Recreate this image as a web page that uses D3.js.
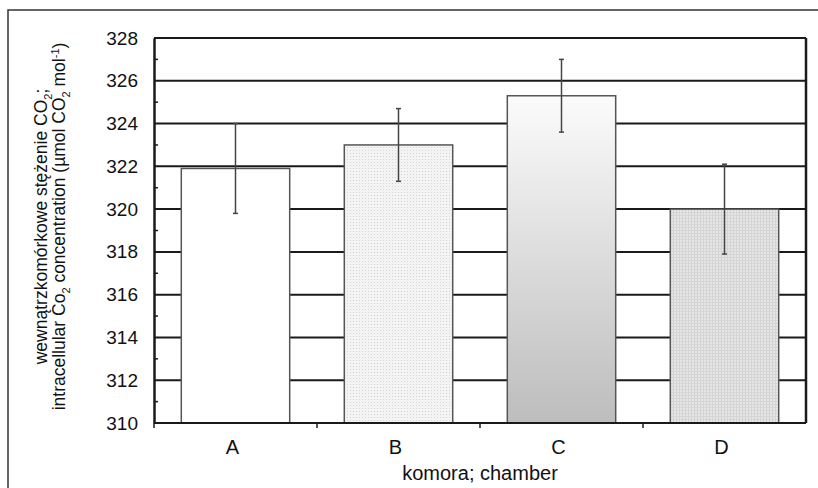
<!DOCTYPE html>
<html>
<head>
<meta charset="utf-8">
<script src="https://d3js.org/d3.v7.min.js"></script>
<style>
	body { margin: 0; background: #fff; }
	svg { display: block; }
	text { font-family: "Liberation Sans", Arial, sans-serif; fill: #111; }
</style>
</head>
<body>
<svg id="chart"></svg>
<script>
(function(){
	'use strict';

	var categories = ["A", "B", "C", "D"];
	var values = [321.9, 323.0, 325.3, 320.0];
	var errors = [2.1, 1.7, 1.7, 2.1];
	var yTicks = [310, 312, 314, 316, 318, 320, 322, 324, 326, 328];
	var fills = ["#ffffff", "url(#stipple)", "url(#grad)", "url(#hatch)"];

	var width = 818, height = 488;
	var margin = {top: 38, right: 12, bottom: 65, left: 154};

	var svg = d3.select("#chart")
		.attr("width", width)
		.attr("height", height);

	var defs = svg.append("defs");

	// fine dotted fill for B
	var stip = defs.append("pattern")
		.attr("id", "stipple")
		.attr("width", 3).attr("height", 3)
		.attr("patternUnits", "userSpaceOnUse");
	stip.append("rect").attr("width", 3).attr("height", 3).attr("fill", "#f4f4f4");
	stip.append("rect").attr("x", 1).attr("y", 1).attr("width", 1).attr("height", 1).attr("fill", "#d4d4d4");

	// light grid fill for D
	var hatch = defs.append("pattern")
		.attr("id", "hatch")
		.attr("width", 3).attr("height", 3)
		.attr("patternUnits", "userSpaceOnUse");
	hatch.append("rect").attr("width", 3).attr("height", 3).attr("fill", "#e6e6e6");
	hatch.append("rect").attr("width", 1).attr("height", 3).attr("fill", "#d2d2d2");
	hatch.append("rect").attr("width", 3).attr("height", 1).attr("fill", "#d6d6d6");

	// vertical gradient for C
	var grad = defs.append("linearGradient")
		.attr("id", "grad")
		.attr("x1", 0).attr("y1", 0).attr("x2", 0).attr("y2", 1);
	grad.append("stop").attr("offset", "0%").attr("stop-color", "#fbfbfb");
	grad.append("stop").attr("offset", "100%").attr("stop-color", "#bdbdbd");

	// outer frame
	svg.append("rect")
		.attr("x", 8).attr("y", 10)
		.attr("width", 840).attr("height", 520)
		.attr("fill", "none")
		.attr("stroke", "#333")
		.attr("stroke-width", 1.5);

	var w = width - margin.left - margin.right,
		h = height - margin.top - margin.bottom;

	var g = svg.append("g").attr("transform", "translate(" + margin.left + "," + margin.top + ")");

	var x = d3.scaleBand()
		.domain(categories)
		.range([0, w])
		.paddingInner(0.335)
		.paddingOuter(0.1675);

	var xb = d3.scaleBand().domain(categories).range([0, w]);

	var y = d3.scaleLinear()
		.domain([310, 328])
		.range([h, 0]);

	// gridlines
	g.append("g")
		.selectAll("line")
		.data(yTicks.slice(1))
		.enter().append("line")
		.attr("x1", 0).attr("x2", w)
		.attr("y1", function(d){ return y(d); })
		.attr("y2", function(d){ return y(d); })
		.attr("stroke", "#1a1a1a")
		.attr("stroke-width", 2);

	// bars
	g.append("g")
		.selectAll("rect")
		.data(values)
		.enter().append("rect")
		.attr("x", function(d, i){ return x(categories[i]); })
		.attr("y", function(d){ return y(d); })
		.attr("width", x.bandwidth())
		.attr("height", function(d){ return h - y(d); })
		.attr("fill", function(d, i){ return fills[i]; })
		.attr("stroke", "#555")
		.attr("stroke-width", 1.5);

	// error bars
	var eb = g.append("g")
		.selectAll("g")
		.data(values)
		.enter().append("g")
		.attr("stroke", "#444")
		.attr("stroke-width", 1.5);

	var cx = function(i){ return x(categories[i]) + x.bandwidth() / 2; };

	eb.append("line")
		.attr("x1", function(d, i){ return cx(i); })
		.attr("x2", function(d, i){ return cx(i); })
		.attr("y1", function(d, i){ return y(d + errors[i]); })
		.attr("y2", function(d, i){ return y(d - errors[i]); });

	eb.append("line")
		.attr("x1", function(d, i){ return cx(i) - 2.5; })
		.attr("x2", function(d, i){ return cx(i) + 2.5; })
		.attr("y1", function(d, i){ return y(d + errors[i]); })
		.attr("y2", function(d, i){ return y(d + errors[i]); });

	eb.append("line")
		.attr("x1", function(d, i){ return cx(i) - 2.5; })
		.attr("x2", function(d, i){ return cx(i) + 2.5; })
		.attr("y1", function(d, i){ return y(d - errors[i]); })
		.attr("y2", function(d, i){ return y(d - errors[i]); });

	// plot frame right side
	g.append("line").attr("x1", w).attr("x2", w).attr("y1", 0).attr("y2", h)
		.attr("stroke", "#1a1a1a").attr("stroke-width", 2.5);

	// y axis
	var yAxis = g.append("g")
		.attr("class", "axis axis--y")
		.call(d3.axisLeft(y).tickValues(yTicks).tickSize(0).tickPadding(16).tickFormat(d3.format("d")));

	yAxis.select(".domain").attr("stroke", "#1a1a1a").attr("stroke-width", 2.5);
	yAxis.selectAll("text").style("font-size", "19px").attr("fill", "#111");

	// minor ticks inside
	g.append("g")
		.selectAll("line")
		.data(d3.range(311, 328, 2))
		.enter().append("line")
		.attr("x1", 0).attr("x2", 4)
		.attr("y1", function(d){ return y(d); })
		.attr("y2", function(d){ return y(d); })
		.attr("stroke", "#1a1a1a")
		.attr("stroke-width", 1.5);

	// x axis
	g.append("line").attr("x1", 0).attr("x2", w).attr("y1", h).attr("y2", h)
		.attr("stroke", "#1a1a1a").attr("stroke-width", 2);

	g.append("g")
		.selectAll("line")
		.data(categories)
		.enter().append("line")
		.attr("x1", function(d){ return xb(d); })
		.attr("x2", function(d){ return xb(d); })
		.attr("y1", h).attr("y2", h + 5)
		.attr("stroke", "#1a1a1a")
		.attr("stroke-width", 1.5);

	g.append("g")
		.selectAll("text")
		.data(categories)
		.enter().append("text")
		.attr("x", function(d){ return x(d) + x.bandwidth() / 2 - 3; })
		.attr("y", h + 31)
		.attr("text-anchor", "middle")
		.style("font-size", "20px")
		.text(function(d){ return d; });

	g.append("text")
		.attr("x", w / 2)
		.attr("y", h + 57)
		.attr("text-anchor", "middle")
		.style("font-size", "20px")
		.text("komora; chamber");

	// y label, two lines with subscripts
	var yl = svg.append("text")
		.attr("transform", "translate(47," + (margin.top + h / 2 - 4) + ") rotate(-90)")
		.attr("text-anchor", "middle")
		.style("font-size", "17.5px");

	function sub(t, s){ t.append("tspan").attr("dy", 5).style("font-size", "11px").text(s); }

	var l1 = yl.append("tspan").attr("x", 0).attr("y", 0);
	l1.append("tspan").text("wewnątrzkomórkowe stężenie CO");
	sub(l1, "2");
	l1.append("tspan").attr("dy", -5).text(";");

	var l2 = yl.append("tspan").attr("x", 0).attr("y", 18);
	l2.append("tspan").text("intracellular Co");
	sub(l2, "2");
	l2.append("tspan").attr("dy", -5).text(" concentration (µmol CO");
	sub(l2, "2");
	l2.append("tspan").attr("dy", -5).text(" mol");
	l2.append("tspan").attr("dy", -6).style("font-size", "11px").text("-1");
	l2.append("tspan").attr("dy", 6).text(")");

})();
</script>
</body>
</html>
